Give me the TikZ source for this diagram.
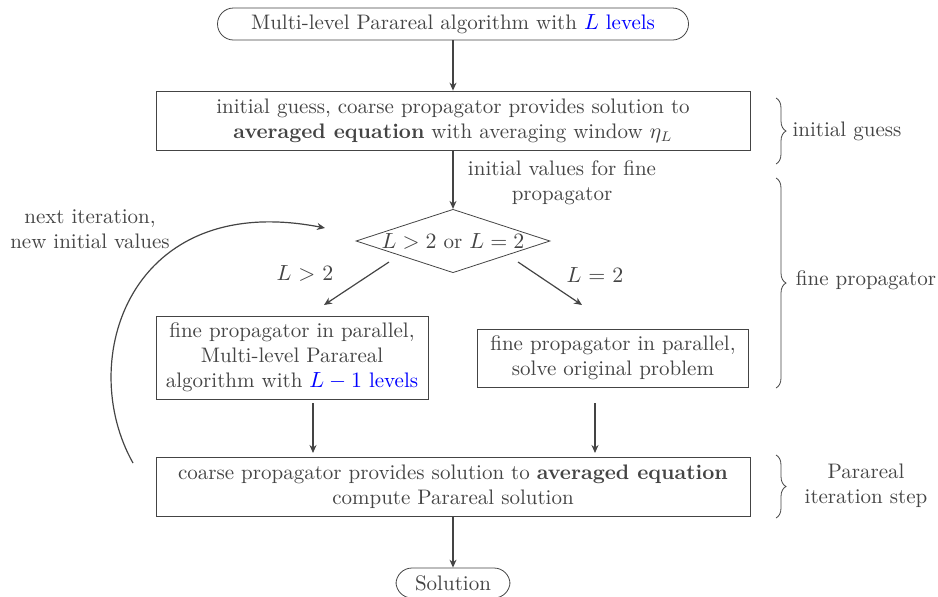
\documentclass[tikz,border=0pt]{standalone}
\usetikzlibrary{shapes.geometric,arrows.meta,decorations.pathreplacing}
\definecolor{ink}{RGB}{68,68,68}
\begin{document}
\begin{tikzpicture}[x=0.5pt,y=-0.5pt,
  every node/.style={text=ink,font=\fontsize{10.5pt}{12.6pt}\selectfont},
  box/.style={draw=ink,align=center,inner sep=2pt},
  term/.style={draw=ink,rounded corners=8pt,align=center,inner sep=2pt},
  dec/.style={draw=ink,diamond,inner sep=0pt,aspect=3},
  arr/.style={draw=ink,-{Stealth[length=4pt,width=3.5pt]},semithick},
  brc/.style={draw=ink,decorate,decoration={brace,amplitude=5pt}},
  lbl/.style={align=center}]
\useasboundingbox (0,0) rectangle (938,596);
\node[term,minimum width=235.5pt,minimum height=16pt] (start) at (453,24)
  {Multi-level Parareal algorithm with \textcolor{blue}{$L$ levels}};
\node[box,minimum width=297pt,minimum height=29.5pt] (init) at (453,120.5)
  {initial guess, coarse propagator provides solution to\\\textbf{averaged equation} with averaging window $\eta_L$};
\node[dec,minimum width=97pt,minimum height=31.5pt] (dia) at (453,241)
  {$L>2$ or $L=2$};
\node[box,minimum width=136pt,minimum height=41.5pt] (left) at (292,357.5)
  {fine propagator in parallel,\\Multi-level Parareal\\algorithm with \textcolor{blue}{$L-1$ levels}};
\node[box,minimum width=135.5pt,minimum height=29pt] (right) at (613,358)
  {fine propagator in parallel,\\solve original problem};
\node[box,minimum width=297pt,minimum height=29.5pt] (bot) at (453,486.5)
  {coarse propagator provides solution to \textbf{averaged equation}\\compute Parareal solution};
\node[term,minimum width=57pt,minimum height=15pt] (sol) at (453,583) {Solution};

\coordinate (lt) at (324,305);
\coordinate (rt) at (582,305);
\coordinate (lf) at (389,262);
\coordinate (rf) at (518,262);
\coordinate (la) at (313,403);
\coordinate (lb) at (313,453);
\coordinate (ra) at (595,403);
\coordinate (rb) at (595,453);
\coordinate (cs) at (133,463);
\coordinate (ce) at (325,228);

\draw[arr] (start) -- (init);
\draw[arr] (init) -- (dia);
\node[lbl] (ivl) at (562,183) {initial values for fine\\propagator};
\draw[arr] (lf) -- (lt);
\node (lgt) at (305,273) {$L$ $>$ $2$};
\draw[arr] (rf) -- (rt);
\node (leq) at (595,275) {$L$ $=$ $2$};
\draw[arr] (la) -- (lb);
\draw[arr] (ra) -- (rb);
\draw[arr] (bot) -- (sol);
\draw[arr] (cs) .. controls (75,360) and (130,190) .. (ce);
\node[lbl] (nxt) at (90,229) {next iteration,\\new initial values};

\coordinate (b1t) at (776,98);
\coordinate (b1b) at (776,164);
\coordinate (b2t) at (776,178);
\coordinate (b2b) at (776,388);
\coordinate (b3t) at (776,455);
\coordinate (b3b) at (776,518);
\draw[brc] (b1t) -- (b1b);
\draw[brc] (b2t) -- (b2b);
\draw[brc] (b3t) -- (b3b);
\node[lbl] (l1) at (847,131) {initial guess};
\node[lbl] (l2) at (866,280) {fine propagator};
\node[lbl] (l3) at (866,486) {Parareal\\iteration step};
\end{tikzpicture}
\end{document}
